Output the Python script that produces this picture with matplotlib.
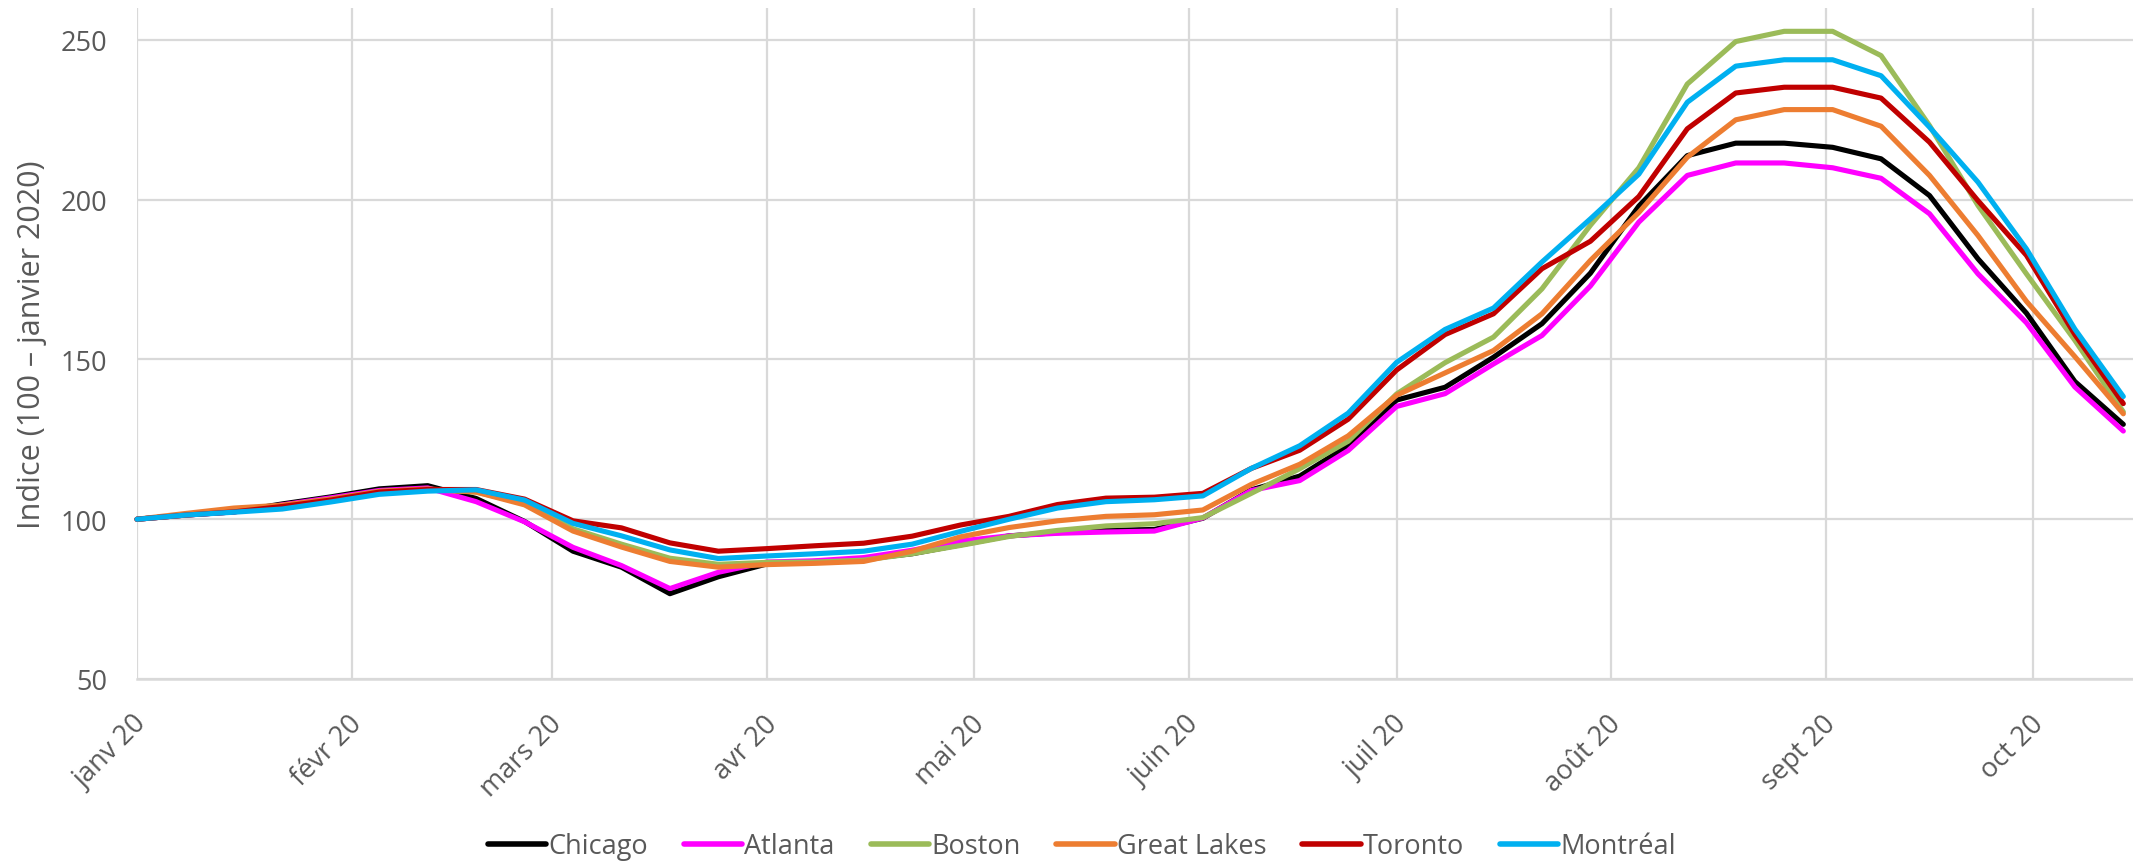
import matplotlib
matplotlib.use("Agg")
import matplotlib.pyplot as plt
import matplotlib.dates as mdates
from matplotlib.transforms import ScaledTranslation
import numpy as np
import pandas as pd

# ---------------- data ----------------
start_date = "2020-01-01"
n_weeks = 42
dates = pd.date_range(start_date, periods=n_weeks, freq="7D")

series_names = ["Chicago", "Atlanta", "Boston", "Great Lakes", "Toronto", "Montréal"]

chicago = [100, 101.3, 102.3, 104.8, 107.0, 109.5, 110.5, 106.5, 99.3, 90.0,
           85.0, 76.7, 82.0, 86.0, 86.8, 87.5, 89.2, 92.0, 94.8, 95.8,
           96.5, 96.8, 100.3, 109.2, 113.5, 123.0, 137.3, 141.3, 150.7, 161.2,
           177.0, 198.0, 213.8, 217.7, 217.7, 216.4, 212.8, 201.3, 181.5, 164.5,
           143.1, 129.7]
atlanta = [100, 101.3, 102.3, 104.5, 106.7, 109.0, 109.8, 105.5, 99.2, 91.2,
           85.5, 78.3, 83.4, 86.6, 87.0, 88.0, 90.3, 93.2, 94.8, 95.6,
           96.0, 96.3, 100.4, 109.0, 112.1, 121.5, 135.3, 139.3, 148.6, 157.5,
           173.0, 193.0, 207.6, 211.5, 211.5, 210.0, 206.7, 195.6, 176.8, 161.5,
           141.4, 127.6]
boston = [100, 101.3, 102.5, 104.2, 106.3, 108.7, 109.3, 108.5, 105.0, 97.0,
          92.2, 87.8, 85.9, 86.5, 86.6, 87.2, 89.2, 91.8, 94.6, 96.5,
          97.9, 98.6, 100.5, 108.1, 115.8, 124.4, 139.2, 149.0, 157.0, 172.1,
          192.0, 210.0, 236.2, 249.5, 252.7, 252.7, 245.1, 223.2, 198.2, 176.8,
          156.0, 133.6]
great_lakes = [100, 101.8, 103.5, 104.4, 106.3, 108.7, 109.5, 108.5, 104.5, 96.3,
               91.3, 86.8, 85.0, 85.8, 86.2, 86.8, 90.0, 94.5, 97.4, 99.5,
               100.9, 101.4, 102.9, 110.9, 117.2, 126.1, 138.8, 145.8, 152.8, 164.3,
               181.0, 196.0, 213.3, 225.0, 228.2, 228.2, 223.0, 207.6, 188.8, 168.2,
               150.9, 133.0]
toronto = [100, 101.3, 102.3, 104.0, 106.0, 108.5, 109.3, 109.3, 106.3, 99.5,
           97.3, 92.6, 90.0, 90.8, 91.7, 92.5, 94.7, 98.2, 100.9, 104.6,
           106.6, 106.9, 108.1, 115.9, 121.6, 131.3, 146.7, 157.8, 164.3, 178.4,
           187.0, 201.0, 222.2, 233.4, 235.2, 235.2, 231.8, 218.0, 199.7, 182.6,
           157.8, 136.2]
montreal = [100, 101.3, 102.2, 103.2, 105.4, 107.8, 108.8, 109.2, 106.0, 98.7,
            94.8, 90.4, 87.7, 88.5, 89.2, 90.0, 92.2, 96.2, 100.0, 103.5,
            105.5, 106.1, 107.3, 115.9, 123.0, 133.2, 149.1, 159.4, 166.1, 180.5,
            194.0, 208.0, 230.5, 241.8, 243.8, 243.8, 238.8, 222.7, 205.5, 184.6,
            159.5, 138.4]

month_labels = ["janv 20", "févr 20", "mars 20", "avr 20", "mai 20", "juin 20",
                "juil 20", "août 20", "sept 20", "oct 20"]
y_ticks = [50, 100, 150, 200, 250]
y_label = "Indice (100 – janvier 2020)"

colors = ["#000000", "#FF00FF", "#9BBB59", "#ED7D31", "#C00000", "#00B0F0"]

# ---------------- figure ----------------
plt.rcParams["font.family"] = ["Open Sans", "DejaVu Sans"]
TXT = "#595959"
GRID = "#D9D9D9"

W, H = 2133, 862
fig = plt.figure(figsize=(W / 100, H / 100), dpi=100)
ax_left, ax_right, ax_top, ax_bottom = 137, 2133, 9, 680
ax = fig.add_axes([ax_left / W, 1 - ax_bottom / H,
                   (ax_right - ax_left) / W, (ax_bottom - ax_top) / H])

all_series = [chicago, atlanta, boston, great_lakes, toronto, montreal]
for name, vals, col in zip(series_names, all_series, colors):
    ax.plot(dates, vals, color=col, lw=3.7, label=name,
            solid_capstyle="round", solid_joinstyle="round", clip_on=False, zorder=3)

x0 = pd.Timestamp(start_date)
ax.set_xlim(x0, x0 + pd.Timedelta(days=288.4))
ax.set_ylim(50, 260)

ax.set_yticks(y_ticks)
ax.set_yticklabels([str(v) for v in y_ticks])
ax.xaxis.set_major_locator(mdates.MonthLocator())
ticks = ax.get_xticks()
ax.set_xticks(ticks[:len(month_labels)])
ax.set_xticklabels(month_labels)

for s in ax.spines.values():
    s.set_visible(False)
ax.grid(True, color=GRID, lw=1.6, zorder=0)
ax.set_axisbelow(True)
ax.axhline(50, color=GRID, lw=1.8, zorder=1, clip_on=False)

ax.tick_params(axis="both", length=0, colors=TXT, labelsize=19.5)
ax.tick_params(axis="y", pad=21.6)
ax.tick_params(axis="x", pad=22)
offset = ScaledTranslation(-4 / 100, 0, fig.dpi_scale_trans)
for lab in ax.get_xticklabels():
    lab.set_rotation(45)
    lab.set_ha("right")
    lab.set_va("top")
    lab.set_rotation_mode("anchor")
    lab.set_transform(lab.get_transform() + offset)

fig.text(32 / W, 1 - 345 / H, y_label, rotation=90, ha="center", va="center",
         fontsize=22, color=TXT)

leg = fig.legend(loc="center", bbox_to_anchor=(1082 / W, 1 - 847 / H), ncol=6,
                 frameon=False, fontsize=19.5, handlelength=2.15,
                 handletextpad=0.08, columnspacing=1.33, borderpad=0.1)
for t in leg.get_texts():
    t.set_color(TXT)
for h in leg.get_lines():
    h.set_linewidth(4.0)
    h.set_solid_capstyle("round")

fig.savefig("out.png", dpi=100)
